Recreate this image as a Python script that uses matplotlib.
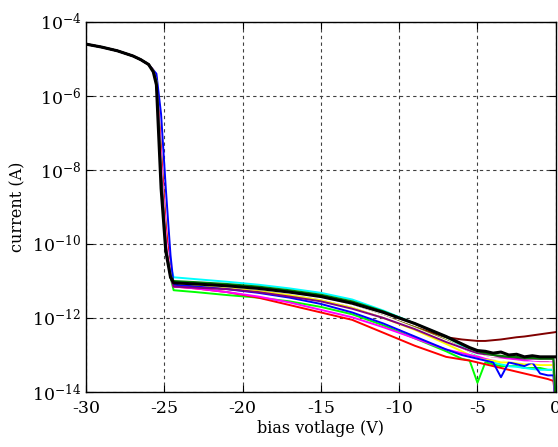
import numpy as np
import matplotlib
matplotlib.use('Agg')
import matplotlib.pyplot as plt
from matplotlib.ticker import FixedLocator, FuncFormatter

# bias voltage grid (V), shared by all sweeps
bias = [-30, -29, -28, -27, -26.5, -26, -25.7, -25.5, -25.2, -24.9, -24.6, -24.4,
        -23, -21, -19, -17, -15, -13, -11, -9, -7, -6, -5.5, -5, -4.5, -4,
        -3.5, -3, -2.5, -2, -1.5, -1, -0.5, -0.15, 0]

# log10 of current (A) for each sweep
maroon = [-4.6, -4.68, -4.78, -4.92, -5.02, -5.15, -5.32, -5.6, -7.8, -9.8, -10.8, -11.08,
          -11.12, -11.18, -11.25, -11.35, -11.48, -11.68, -11.95, -12.25, -12.52, -12.58, -12.6,
          -12.62, -12.62, -12.6, -12.58, -12.55, -12.52, -12.5, -12.47, -12.44, -12.41, -12.39, -12.38]
olive = [-4.6, -4.68, -4.78, -4.92, -5.02, -5.15, -5.32, -5.6, -7.9, -9.9, -10.8, -11.07,
         -11.1, -11.17, -11.25, -11.35, -11.48, -11.68, -11.95, -12.25, -12.6, -12.8, -12.9,
         -13.0, -13.05, -13.1, -13.1, -13.15, -13.15, -13.2, -13.2, -13.2, -13.2, -13.25, -14.3]
green = [-4.6, -4.68, -4.78, -4.92, -5.02, -5.15, -5.32, -5.6, -7.6, -9.6, -10.9, -11.25,
         -11.3, -11.38, -11.45, -11.55, -11.7, -11.9, -12.2, -12.55, -12.9, -13.1, -13.15,
         -13.75, -13.2, -13.25, -13.3, -13.3, -13.3, -13.35, -13.35, -13.35, -13.4, -13.4, -14.3]
cyan = [-4.6, -4.68, -4.78, -4.92, -5.02, -5.15, -5.32, -5.6, -7.7, -9.7, -10.6, -10.9,
        -10.95, -11.02, -11.1, -11.2, -11.32, -11.5, -11.8, -12.15, -12.5, -12.75, -12.9,
        -13.0, -13.1, -13.2, -13.25, -13.3, -13.32, -13.35, -13.38, -13.4, -13.4, -13.4, -14.2]
yellow = [-4.6, -4.68, -4.78, -4.92, -5.02, -5.15, -5.32, -5.6, -7.8, -9.8, -10.8, -11.1,
          -11.13, -11.2, -11.28, -11.38, -11.52, -11.72, -12.0, -12.32, -12.7, -12.9, -13.0,
          -13.05, -13.1, -13.15, -13.2, -13.2, -13.22, -13.25, -13.25, -13.27, -13.27, -13.27, -14.4]
red = [-4.6, -4.68, -4.78, -4.92, -5.02, -5.15, -5.3, -5.5, -7.5, -9.5, -10.8, -11.15,
       -11.2, -11.3, -11.45, -11.65, -11.85, -12.05, -12.4, -12.75, -13.05, -13.12, -13.15,
       -13.2, -13.25, -13.3, -13.35, -13.4, -13.45, -13.5, -13.55, -13.6, -13.65, -13.7, -14.3]
magenta = [-4.6, -4.68, -4.78, -4.92, -5.02, -5.15, -5.32, -5.6, -7.8, -9.8, -10.85, -11.15,
           -11.2, -11.3, -11.42, -11.58, -11.78, -11.98, -12.25, -12.55, -12.85, -12.95, -13.0,
           -13.05, -13.08, -13.1, -13.1, -13.1, -13.12, -13.15, -13.18, -13.2, -13.2, -13.2, -14.5]
blue = [-4.6, -4.68, -4.78, -4.92, -5.02, -5.15, -5.3, -5.4, -6.5, -8.5, -10.3, -11.1,
        -11.15, -11.22, -11.32, -11.45, -11.62, -11.85, -12.15, -12.5, -12.85, -13.0, -13.05,
        -13.1, -13.15, -13.2, -13.6, -13.2, -13.25, -13.3, -13.2, -13.5, -13.55, -13.55, -14.5]
white = [-4.6, -4.68, -4.78, -4.92, -5.02, -5.15, -5.32, -5.6, -7.9, -9.9, -10.85, -11.05,
         -11.08, -11.15, -11.22, -11.33, -11.47, -11.67, -11.95, -12.28, -12.62, -12.8, -12.9,
         -12.98, -13.05, -13.1, -13.12, -13.15, -13.17, -13.2, -13.2, -13.22, -13.22, -13.22, -14.4]
purple = [-4.6, -4.68, -4.78, -4.92, -5.02, -5.15, -5.32, -5.6, -8.0, -10.0, -10.9, -11.15,
          -11.18, -11.22, -11.3, -11.42, -11.55, -11.75, -12.0, -12.3, -12.65, -12.8, -12.88,
          -12.95, -12.98, -13.0, -13.05, -13.05, -13.08, -13.1, -13.1, -13.1, -13.1, -13.1, -14.4]
darkgreen = [-4.6, -4.68, -4.78, -4.92, -5.02, -5.15, -5.32, -5.6, -8.2, -10.1, -10.85, -11.0,
             -11.03, -11.08, -11.15, -11.25, -11.37, -11.55, -11.82, -12.15, -12.52, -12.72, -12.82,
             -12.9, -12.95, -13.0, -13.02, -13.05, -13.05, -13.08, -13.08, -13.1, -13.1, -13.1, -14.3]
black = [-4.6, -4.68, -4.78, -4.92, -5.02, -5.15, -5.35, -5.7, -8.5, -10.2, -10.9, -11.05,
         -11.08, -11.13, -11.2, -11.3, -11.42, -11.6, -11.85, -12.15, -12.5, -12.7, -12.8,
         -12.88, -12.9, -12.95, -12.92, -13.0, -12.98, -13.05, -13.02, -13.05, -13.05, -13.05, -13.05]

sweeps = [(maroon, '#800000'), (olive, '#808000'), (green, '#00ff00'), (cyan, '#00ffff'),
          (yellow, '#ffff00'), (red, '#ff0000'), (magenta, '#ff00ff'), (blue, '#0000ff'),
          (white, '#ffffff'), (purple, '#800080'), (darkgreen, '#008000')]

x_ticks = [-30, -25, -20, -15, -10, -5, 0]
y_ticks = [1e-14, 1e-12, 1e-10, 1e-8, 1e-6, 1e-4]

plt.rcParams['font.family'] = ['DejaVu Serif']
plt.rcParams['mathtext.fontset'] = 'custom'
plt.rcParams['mathtext.rm'] = 'DejaVu Serif'
plt.rcParams['mathtext.it'] = 'DejaVu Serif'

fig = plt.figure(figsize=(5.58, 4.47), dpi=100)
ax = fig.add_axes([0.154, 0.123, 0.842, 0.828])

for vals, col in sweeps:
    ax.plot(bias, 10 ** np.array(vals), color=col, lw=1.4)
ax.plot(bias, 10 ** np.array(black), color='black', lw=2.2)

ax.set_yscale('log')
ax.set_xlim(-30, 0)
ax.set_ylim(1e-14, 1e-4)
ax.xaxis.set_major_locator(FixedLocator(x_ticks))
ax.yaxis.set_major_locator(FixedLocator(y_ticks))
ax.yaxis.set_minor_locator(FixedLocator([]))
ax.yaxis.set_major_formatter(FuncFormatter(
    lambda y, pos: r'$10^{%d}$' % int(round(np.log10(y)))))
ax.xaxis.set_major_formatter(FuncFormatter(lambda x, pos: '%d' % x))

ax.grid(True, which='major', color='0.25', linestyle=(0, (3, 3)), lw=0.8)
ax.tick_params(direction='in', top=True, right=True, labelsize=12.5, length=5,
               width=0.8)
ax.tick_params(axis='x', pad=6)
for s in ax.spines.values():
    s.set_linewidth(1.0)

ax.set_xlabel('bias votlage (V)', fontsize=11.5, labelpad=2)
ax.set_ylabel('current (A)', fontsize=11.5, labelpad=4)

fig.savefig('out.png', dpi=100)
